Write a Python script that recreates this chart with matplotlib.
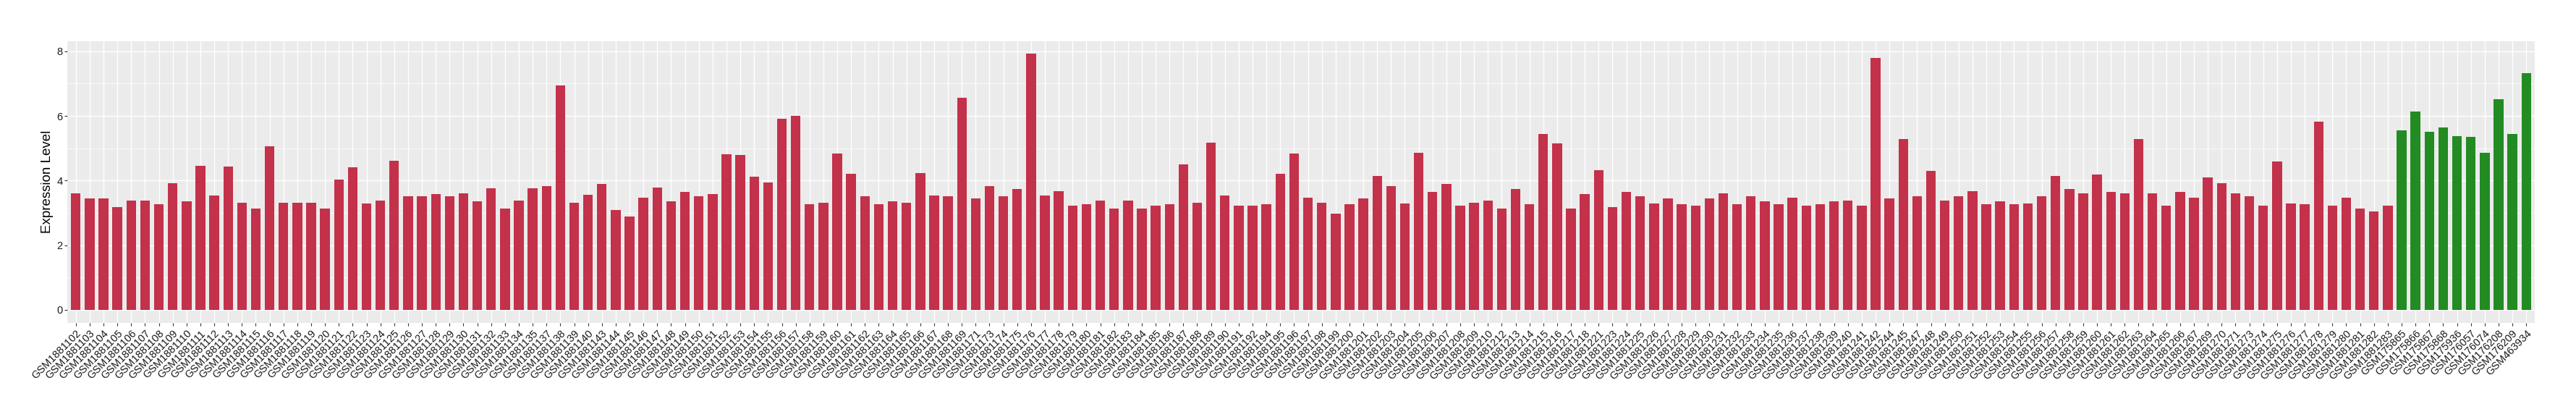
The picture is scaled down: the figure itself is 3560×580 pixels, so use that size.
import matplotlib
matplotlib.use("Agg")
import matplotlib.pyplot as plt
import numpy as np

# ── Data ──────────────────────────────────────────────────────────────────────
red_ids = (
    list(range(1881102, 1881136)) + list(range(1881137, 1881141)) +
    list(range(1881143, 1881170)) + [1881171] + list(range(1881173, 1881193)) +
    list(range(1881194, 1881211)) + list(range(1881212, 1881219)) + [1881221] +
    list(range(1881223, 1881243)) + [1881244, 1881245] +
    list(range(1881247, 1881268)) + [1881269, 1881270, 1881271] +
    list(range(1881273, 1881284))
)
green_ids = [175865, 175866, 175867, 175868, 175936, 176057, 176074, 176208, 176209, 463934]

red_values = [
    # 102 - 135
    3.61, 3.46, 3.46, 3.17, 3.39, 3.39, 3.26, 3.93, 3.36, 4.46,
    3.55, 4.44, 3.32, 3.14, 5.06, 3.32, 3.32, 3.32, 3.13, 4.04,
    4.42, 3.30, 3.39, 4.62, 3.52, 3.51, 3.59, 3.52, 3.61, 3.36,
    3.77, 3.14, 3.39, 3.77,
    # 137 - 140
    3.84, 6.94, 3.32, 3.57,
    # 143 - 169
    3.90, 3.08, 2.90, 3.48, 3.79, 3.36, 3.66, 3.52, 3.59, 4.82,
    4.79, 4.12, 3.95, 5.91, 6.00, 3.26, 3.32, 4.84, 4.21, 3.52,
    3.26, 3.35, 3.32, 4.24, 3.55, 3.52, 6.56,
    # 171
    3.46,
    # 173 - 192
    3.84, 3.52, 3.73, 7.92, 3.55, 3.68, 3.22, 3.26, 3.39, 3.14,
    3.39, 3.13, 3.22, 3.26, 4.50, 3.32, 5.17, 3.55, 3.23, 3.23,
    # 194 - 210
    3.26, 4.21, 4.84, 3.48, 3.32, 2.97, 3.28, 3.46, 4.15, 3.82,
    3.30, 4.87, 3.64, 3.90, 3.22, 3.32, 3.39,
    # 212 - 218
    3.14, 3.74, 3.26, 5.44, 5.15, 3.13, 3.59,
    # 221
    4.33,
    # 223 - 242
    3.17, 3.66, 3.51, 3.30, 3.46, 3.26, 3.22, 3.46, 3.61, 3.28,
    3.51, 3.36, 3.28, 3.48, 3.22, 3.28, 3.35, 3.39, 3.23, 7.80,
    # 244 - 245
    3.46, 5.29,
    # 247 - 267
    3.52, 4.31, 3.39, 3.51, 3.68, 3.28, 3.35, 3.26, 3.30, 3.52,
    4.15, 3.74, 3.61, 4.19, 3.66, 3.61, 5.29, 3.61, 3.23, 3.66,
    3.48,
    # 269 - 271
    4.11, 3.93, 3.61,
    # 273 - 283
    3.52, 3.23, 4.59, 3.30, 3.28, 5.82, 3.22, 3.48, 3.14, 3.04,
    3.23,
]
green_values = [5.55, 6.14, 5.51, 5.64, 5.38, 5.35, 4.87, 6.52, 5.44, 7.32]

labels = [f"GSM{i}" for i in red_ids] + [f"GSM{i}" for i in green_ids]
values = red_values + green_values
colors = ["#C3314A"] * len(red_values) + ["#228B22"] * len(green_values)

# ── Plot ──────────────────────────────────────────────────────────────────────
plt.rcParams["font.family"] = ["Liberation Sans", "DejaVu Sans"]

fig = plt.figure(figsize=(35.6, 5.8), dpi=100)
ax = fig.add_axes([0.0262, 0.2316, 0.9577, 0.6706])

x = np.arange(len(values))
ax.set_facecolor("#EBEBEB")
ax.bar(x, values, width=0.7, color=colors, zorder=3)

ymax = max(values)
ax.set_xlim(-0.6, len(values) - 1 + 0.6)
ax.set_ylim(-0.05 * ymax, ymax * 1.05)

ax.set_yticks([0, 2, 4, 6, 8])
ax.set_yticks([1, 3, 5, 7], minor=True)
ax.set_xticks(x)
ax.set_xticklabels(labels, rotation=45, ha="right", rotation_mode="anchor",
                   fontsize=10.5, color="#1A1A1A")
ax.tick_params(axis="y", labelsize=10.5, labelcolor="#1A1A1A", pad=2)
ax.tick_params(axis="x", pad=2.5)
ax.tick_params(axis="both", which="major", length=3, color="#333333", width=0.8)
ax.tick_params(axis="y", which="minor", length=0)

ax.grid(which="major", color="white", linewidth=1.0, zorder=0)
ax.grid(which="minor", axis="y", color="white", linewidth=0.5, zorder=0)
ax.set_axisbelow(True)
for s in ax.spines.values():
    s.set_visible(False)

ax.set_ylabel("Expression Level", fontsize=13.5, color="black")
ax.yaxis.set_label_coords(-0.0057, 0.5)

fig.savefig("out.png", dpi=100)
